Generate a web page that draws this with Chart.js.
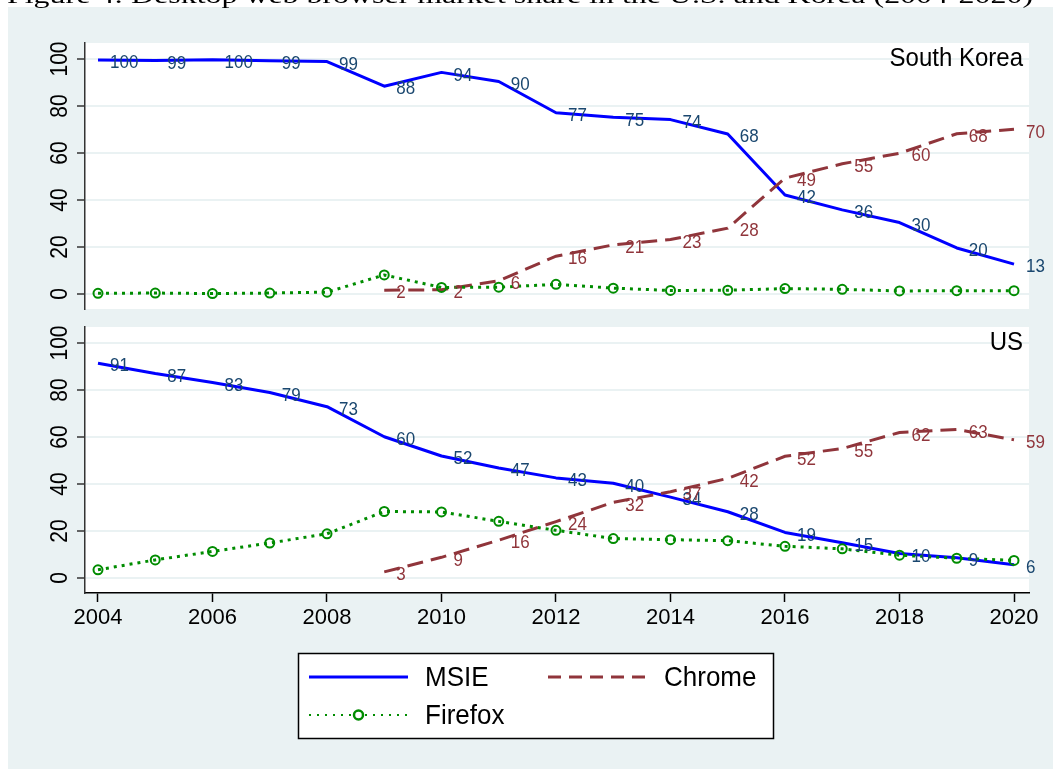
<!DOCTYPE html>
<html><head><meta charset="utf-8">
<script src="https://cdn.jsdelivr.net/npm/chart.js@4.4.1/dist/chart.umd.min.js"></script>
<style>
html,body{margin:0;padding:0;background:#fff;width:1053px;height:769px;overflow:hidden;}
#bg{position:absolute;left:8px;top:7px;width:1045px;height:762px;background:#EAF2F3;}
#c1{position:absolute;left:0;top:0;}
#c2{position:absolute;left:0;top:320px;}
</style></head><body>
<div id="bg"></div>
<canvas id="c1" width="1053" height="320"></canvas>
<canvas id="c2" width="1053" height="449"></canvas>
<script>
// ---------------- DATA ----------------
const years = [2004,2005,2006,2007,2008,2009,2010,2011,2012,2013,2014,2015,2016,2017,2018,2019,2020];
const seriesNames = ['MSIE','Chrome','Firefox'];
const panelNames = ['South Korea','US'];
const figureTitle = 'Figure 4: Desktop web browser market share in the U.S. and Korea (2004-2020)';

const krMSIE    = [99.6,99.4,99.7,99.3,98.9,88.4,94.3,90.4,77.1,75.2,74.2,68.1,42.1,35.8,30.4,19.6,12.7];
const krChrome  = [null,null,null,null,null,1.6,1.8,5.6,16.1,20.9,23.2,28.0,49.3,55.4,59.9,68.2,70.1];
const krFirefox = [0.3,0.4,0.2,0.4,0.8,8.1,2.8,2.9,4.1,2.5,1.5,1.6,2.3,2.0,1.3,1.4,1.4];

const usMSIE    = [91.4,87.0,83.2,78.9,72.9,60.1,51.9,46.8,42.6,40.3,34.4,28.2,19.4,15.0,10.4,8.6,5.6];
const usChrome  = [null,null,null,null,null,2.6,8.8,16.1,24.0,32.2,36.7,42.4,51.8,55.1,61.9,63.2,58.8];
const usFirefox = [3.5,7.7,11.3,14.9,18.8,28.3,28.1,24.1,20.3,16.8,16.3,15.9,13.5,12.4,9.7,8.4,7.5];

const yTicks = [0,20,40,60,80,100];
const xTicks = [2004,2006,2008,2010,2012,2014,2016,2018,2020];

// ---------------- STYLE ----------------
const FONT = '"Liberation Sans", Arial, Helvetica, sans-serif';
const C_MSIE = '#0000FF', C_MSIE_LBL = '#1A476F';
const C_CHR = '#90353B';
const C_FF = '#008C00';
const GRID = '#EAF2F3';

function pts(arr){ return years.map((y,i)=> ({x:y, y:arr[i]})); }

function makeDatasets(msie, chrome, ff){
  return [
    {label:seriesNames[0], data:pts(msie), borderColor:C_MSIE, borderWidth:3, pointRadius:0,
     order:3, labelColor:C_MSIE_LBL, showLabels:true, borderJoinStyle:'round'},
    {label:seriesNames[1], data:pts(chrome), borderColor:C_CHR, borderWidth:3, pointRadius:0,
     borderDash:[16,8], order:2, labelColor:C_CHR, showLabels:true, spanGaps:false},
    {label:seriesNames[2], data:pts(ff), borderColor:C_FF, borderWidth:3, borderDash:[3,5],
     pointRadius:4.5, pointBorderWidth:2, pointBorderColor:C_FF, pointBackgroundColor:'rgba(0,0,0,0)',
     order:1, showLabels:false}
  ];
}

const plotBg = {
  id:'plotBg',
  beforeDraw(chart){
    const ca = chart.chartArea, ctx = chart.ctx;
    ctx.save();
    ctx.fillStyle = '#fff';
    ctx.fillRect(ca.left, ca.top, ca.right - ca.left, ca.bottom - ca.top);
    ctx.restore();
  }
};

const pointLabels = {
  id:'pointLabels',
  afterDatasetsDraw(chart){
    const ctx = chart.ctx;
    ctx.save();
    ctx.font = '17px ' + FONT;
    ctx.textAlign = 'left';
    ctx.textBaseline = 'middle';
    chart.data.datasets.forEach((ds, di)=>{
      if(!ds.showLabels) return;
      const meta = chart.getDatasetMeta(di);
      ctx.fillStyle = ds.labelColor;
      meta.data.forEach((el, i)=>{
        const v = ds.data[i].y;
        if(v === null || v === undefined) return;
        ctx.save();
        ctx.translate(el.x + 12, el.y + 3);
        ctx.scale(1, 1.12);
        ctx.fillText(String(Math.round(v)), 0, 0);
        ctx.restore();
      });
    });
    ctx.restore();
  }
};

const yLabels = {
  id:'yLabels',
  afterDraw(chart){
    const ctx = chart.ctx, s = chart.scales.y;
    ctx.save();
    ctx.font = '21px ' + FONT;
    ctx.fillStyle = '#000';
    ctx.textAlign = 'center';
    ctx.textBaseline = 'alphabetic';
    yTicks.forEach(v=>{
      const py = s.getPixelForValue(v);
      ctx.save();
      ctx.translate(67, py);
      ctx.rotate(-Math.PI/2);
      ctx.scale(1, 1.1);
      ctx.fillText(String(v), 0, 0);
      ctx.restore();
    });
    // panel title
    const ca = chart.chartArea;
    ctx.font = '24px ' + FONT;
    ctx.textAlign = 'right';
    ctx.textBaseline = 'middle';
    ctx.save();
    ctx.translate(ca.right - 6, ca.top + 16);
    ctx.scale(1, 1.1);
    ctx.fillText(chart.options.panelTitle, 0, 0);
    ctx.restore();
    ctx.restore();
  }
};

const figTitle = {
  id:'figTitle',
  afterDraw(chart){
    if(!chart.options.showFigTitle) return;
    const ctx = chart.ctx;
    ctx.save();
    ctx.font = '23px "Liberation Serif", "Times New Roman", serif';
    const w = ctx.measureText(figureTitle).width;
    const sx = 1026 / w;
    ctx.fillStyle = '#000';
    ctx.textAlign = 'left';
    ctx.textBaseline = 'alphabetic';
    ctx.translate(7, 2.5);
    ctx.scale(sx, 1);
    ctx.fillText(figureTitle, 0, 0);
    ctx.restore();
  }
};

const legendBox = {
  id:'legendBox',
  afterDraw(chart){
    if(!chart.options.showLegendBox) return;
    const ctx = chart.ctx;
    const off = 320; // canvas top in page coordinates
    const ds = chart.data.datasets;
    ctx.save();
    ctx.fillStyle = '#fff';
    ctx.fillRect(298, 653-off, 476, 86);
    ctx.strokeStyle = '#000';
    ctx.lineWidth = 1.5;
    ctx.strokeRect(298.5, 653.5-off, 475, 85);
    const items = [
      {ds:ds[0], x0:309, x1:408, y:677, tx:425},
      {ds:ds[1], x0:548, x1:648, y:677, tx:664},
      {ds:ds[2], x0:309, x1:408, y:715, tx:425}
    ];
    items.forEach((it, k)=>{
      ctx.save();
      ctx.strokeStyle = it.ds.borderColor;
      if(k===2){ ctx.lineWidth = 2; ctx.setLineDash([2,6]); }
      else { ctx.lineWidth = 3; ctx.setLineDash(k===1 ? [13,8] : []); }
      ctx.beginPath();
      ctx.moveTo(it.x0, it.y-off); ctx.lineTo(it.x1, it.y-off); ctx.stroke();
      if(k===2){
        ctx.setLineDash([]);
        ctx.lineWidth = 2.5;
        ctx.beginPath();
        ctx.arc((it.x0+it.x1)/2, it.y-off, 4.5, 0, Math.PI*2);
        ctx.fillStyle = '#fff'; ctx.fill();
        ctx.stroke();
      }
      ctx.restore();
      ctx.save();
      ctx.font = '26px ' + FONT;
      ctx.fillStyle = '#000';
      ctx.textAlign = 'left';
      ctx.textBaseline = 'middle';
      ctx.translate(it.tx, it.y - off + 1);
      ctx.scale(1, 1.08);
      ctx.fillText(it.ds.label, 0, 0);
      ctx.restore();
    });
    ctx.restore();
  }
};

const XMIN = 2003.773, XMAX = 2020.262, YMIN = -6.38, YMAX = 106.8;

function yScale(){
  return {
    type:'linear', min:YMIN, max:YMAX,
    afterBuildTicks: s => { s.ticks = yTicks.map(v=>({value:v})); },
    afterFit: s => { s.width = 85; },
    ticks:{display:false},
    grid:{color:GRID, lineWidth:2, drawTicks:true, tickLength:8, tickColor:'#333', tickWidth:1.5},
    border:{display:true, color:'#333', width:1.5}
  };
}

function makeChart(id, datasets, opts){
  return new Chart(document.getElementById(id), {
    type:'line',
    data:{datasets},
    plugins:[plotBg, pointLabels, yLabels, figTitle, legendBox],
    options:Object.assign({
      responsive:false, animation:false, devicePixelRatio:1,
      plugins:{legend:{display:false}, tooltip:{enabled:false}, title:{display:false}},
      elements:{line:{tension:0}},
    }, opts)
  });
}

makeChart('c1', makeDatasets(krMSIE, krChrome, krFirefox), {
  panelTitle: panelNames[0], showFigTitle:true,
  layout:{padding:{left:0, right:24, top:43, bottom:11}},
  scales:{
    x:{type:'linear', min:XMIN, max:XMAX, display:false,
       afterBuildTicks: s => { s.ticks = xTicks.map(v=>({value:v})); }},
    y:yScale()
  }
});

makeChart('c2', makeDatasets(usMSIE, usChrome, usFirefox), {
  panelTitle: panelNames[1], showLegendBox:true,
  layout:{padding:{left:0, right:24, top:7, bottom:129}},
  scales:{
    x:{type:'linear', min:XMIN, max:XMAX,
       afterBuildTicks: s => { s.ticks = xTicks.map(v=>({value:v})); },
       afterFit: s => { s.height = 47; },
       ticks:{font:{size:22, family:FONT}, color:'#000', padding:3, maxRotation:0, minRotation:0,
              autoSkip:false, callback: v => String(v)},
       grid:{drawOnChartArea:false, drawTicks:true, tickLength:9, tickColor:'#000', tickWidth:1.5},
       border:{display:true, color:'#000', width:1.5}},
    y:yScale()
  }
});
</script>
</body></html>
